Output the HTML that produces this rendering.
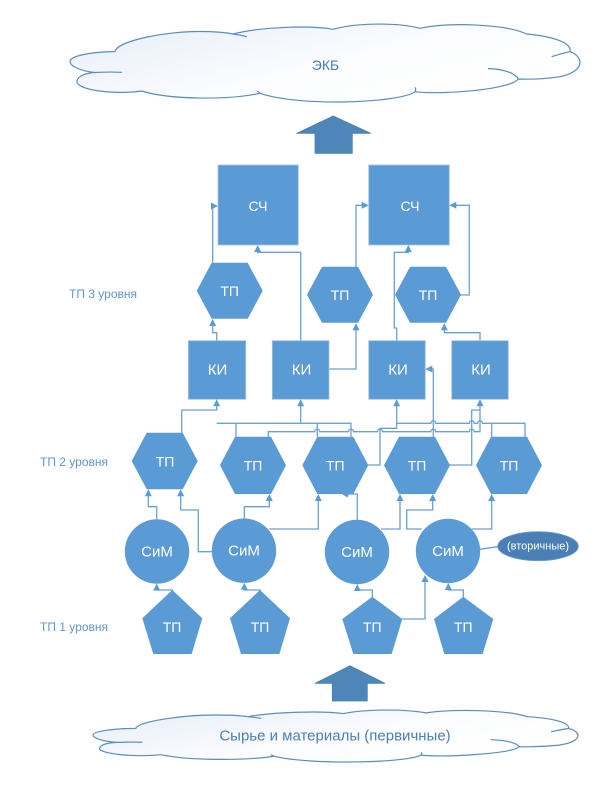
<!DOCTYPE html>
<html><head><meta charset="utf-8"><style>
html,body{margin:0;padding:0;background:#fff;}
svg{display:block;}
text{font-family:"Liberation Sans",sans-serif;}
</style></head><body>
<svg width="605" height="790" viewBox="0 0 605 790" xmlns="http://www.w3.org/2000/svg">
<defs>
<linearGradient id="cg" x1="0" y1="0" x2="1" y2="0.6">
<stop offset="0" stop-color="#e6edf8"/><stop offset="0.6" stop-color="#fbfcfe"/><stop offset="1" stop-color="#ffffff"/>
</linearGradient>
<g id="cloud">
<path d="M141.7 91 C115 95,75 90,77 81 C78 75,88 73,95 72.5 C80 71,70 66,70 61.5 C70 56,90 52,115 51.5 C118 40,170 31,200 31.5 C215 31.5,228 33,233 34 C260 27,310 25,333 29.3 C360 22,400 23,420 28.3 C450 22,505 24,526.7 34 C550 36,572 42,570 51.7 C585 57,584 72,560 76.7 C545 79,530 79.5,518.3 79 C510 90,440 95,415 91.7 C400 103,300 107,260 93.3 C230 100,170 100,141.7 91 Z" fill="url(#cg)" stroke="#5a8cc2" stroke-width="1.2" vector-effect="non-scaling-stroke"/>
<path d="M95 72.5 C105 72,115 72,122 72.3 M233 34 C238 35,243 35.5,247 36.7 M570 51.7 C563 53,557 55,551.7 56.7 M518.3 79 C515 72,500 69,488 68.5 M415 91.7 C416 90,416 89,415 87.3 M260 93.3 C259 92,258 91.5,257 91" fill="none" stroke="#5a8cc2" stroke-width="1.2" vector-effect="non-scaling-stroke"/>
</g>
</defs>

<!-- top cloud -->
<use href="#cloud"/>
<text x="325.5" y="65" font-size="14" fill="#4a7ebb" text-anchor="middle" dominant-baseline="central">ЭКБ</text>

<!-- bottom cloud -->
<g transform="translate(93,710) scale(0.951,0.667) translate(-70,-24)"><use href="#cloud"/></g>
<text x="335" y="736" font-size="15" fill="#4a7ebb" text-anchor="middle" dominant-baseline="central">Сырье и материалы (первичные)</text>

<!-- block arrows -->
<polygon points="333.3,116 370.7,133.3 352.3,133.3 352.3,153.3 315,153.3 315,133.3 296.7,133.3" fill="#4f86b9" stroke="#4a7fb0" stroke-width="0.8"/>
<polygon points="350,665.7 385,683.3 367.3,683.3 367.3,701 332.3,701 332.3,683.3 315,683.3" fill="#4f86b9" stroke="#4a7fb0" stroke-width="0.8"/>

<!-- level labels -->
<g font-size="12" fill="#5f95cf">
<text x="69" y="294" dominant-baseline="central">ТП 3 уровня</text>
<text x="40" y="462" dominant-baseline="central">ТП 2 уровня</text>
<text x="40" y="627" dominant-baseline="central">ТП 1 уровня</text>
</g>

<!-- connectors -->
<g fill="none" stroke="#6c9fd4" stroke-width="1.3">
<path d="M216.7 341 V332.7 H212.7 V325"/>
<path d="M212.7 262.7 V206 H212"/>
<path d="M300.7 341 V252.3 H257.7 V251"/>
<path d="M329 369 H356 V329"/>
<path d="M356 266.7 V205.3 H362"/>
<path d="M396.7 341 V328 H394.3 V252.3 H408.3 V251"/>
<path d="M460 295 H469.3 V205.3 H455"/>
<path d="M480 341 V332.7 H444.3 V329"/>
<path d="M433.3 436.7 V369 H431"/>

<path d="M181.7 432.7 V410 H216.7 V405"/>
<path d="M236 436.7 V423.3 M216.7 423.3 H351 V436.7 M300.7 423.3 V405 M317.3 423.3 V436.7"/>
<path d="M268.3 436.7 V431.7 H314.8 a2.5 2.5 0 0 1 5 0 H348.5 a2.5 2.5 0 0 1 5 0 H377.5 a2.5 2.5 0 0 1 5 0 H430.8 a2.5 2.5 0 0 1 5 0 H469.2 a2.5 2.5 0 0 1 5 0 H480 V405"/>
<path d="M367.3 465 H380 V428.3 H396.7 V405"/>
<path d="M396.7 423.3 H430.8 a2.5 2.5 0 0 1 5 0 H469.2 a2.5 2.5 0 0 1 5 0 H477.5 a2.5 2.5 0 0 1 5 0 H525 V436.7 M491.7 423.3 V436.7"/>
<path d="M449.3 465 H471.7 V410 H480"/>

<path d="M156.7 519.3 V506.7 H148.3 V495"/>
<path d="M211.7 551.7 H198.3 V510 H180.7 V495"/>
<path d="M244.3 518.7 V506.7 H269.3 V500"/>
<path d="M269.3 529 H318.3 V500"/>
<path d="M357.3 520 V494 H348"/>
<path d="M381 529 H400 V500"/>
<path d="M421.7 529 H406.7 V510 H432.7 V500"/>
<path d="M471.7 529 H491.7 V500"/>
<path d="M480 549.3 L497.7 546.7"/>

<path d="M172.3 592 V590 H156.7 V589"/>
<path d="M260 592 V590 H244.3 V588"/>
<path d="M372.3 597 V590 H357.3 V589"/>
<path d="M402.3 619 H425 V581"/>
<path d="M463.3 597 V590 H448.3 V588"/>
</g>

<!-- shapes -->
<g fill="#5b9bd5" stroke="#a9c1da" stroke-width="0.8">
<rect x="218" y="165" width="80.3" height="80"/>
<rect x="368.7" y="165" width="80.6" height="80"/>
<rect x="188.3" y="340.7" width="57.4" height="58.6"/>
<rect x="272.3" y="340.7" width="56.7" height="58.6"/>
<rect x="368.7" y="340.7" width="56.6" height="58.6"/>
<rect x="451.7" y="340.7" width="56.6" height="58.6"/>
</g>
<g fill="#5b9bd5">
<!-- level 3 hexes -->
<polygon points="211.7,262.7 247.7,262.7 262.7,290.7 247.7,318.7 211.7,318.7 196.7,290.7"/>
<polygon points="322,266.7 358,266.7 373,294.7 358,322.7 322,322.7 307,294.7"/>
<polygon points="410,266.7 446,266.7 461,294.7 446,322.7 410,322.7 395,294.7"/>
<!-- level 2 hexes -->
<polygon points="146.7,432.7 182.7,432.7 197.7,461 182.7,489.3 146.7,489.3 131.7,461"/>
<polygon points="235,436.7 271,436.7 286,465.3 271,494 235,494 220,465.3"/>
<polygon points="317.3,436.7 353.3,436.7 368.3,465.3 353.3,494 317.3,494 302.3,465.3"/>
<polygon points="399,436.7 435,436.7 450,465.3 435,494 399,494 384,465.3"/>
<polygon points="491,436.7 527,436.7 542,465.3 527,494 491,494 476,465.3"/>
<polygon points="341,493.5 349,493.5 347.5,497.5"/>
<!-- circles -->
<circle cx="157" cy="551.5" r="32.2"/>
<circle cx="244" cy="550.7" r="32.2"/>
<circle cx="357" cy="552" r="32.2"/>
<circle cx="448" cy="551" r="32.2"/>
<!-- pentagons -->
<polygon points="172.3,590 202.3,618.3 191.7,654 153.3,654 142.3,618.3"/>
<polygon points="260,590 290,618.3 279.4,654 241,654 230,618.3"/>
<polygon points="372.3,596.7 402.3,619 391.7,654 353.3,654 342.3,619"/>
<polygon points="463.3,596.7 493.3,619 482.7,654 444.3,654 434,619"/>
<!-- arrowheads up -->
<polygon points="212.7,319 209.2,326 216.2,326"/>
<polygon points="257.7,245 254.2,252 261.2,252"/>
<polygon points="356,323.3 352.5,330.3 359.5,330.3"/>
<polygon points="408.3,245 404.8,252 411.8,252"/>
<polygon points="444.3,323.3 440.8,330.3 447.8,330.3"/>
<polygon points="216.7,399.3 213.2,406.3 220.2,406.3"/>
<polygon points="300.7,399.3 297.2,406.3 304.2,406.3"/>
<polygon points="396.7,399.3 393.2,406.3 400.2,406.3"/>
<polygon points="480,399.3 476.5,406.3 483.5,406.3"/>
<polygon points="148.3,489.3 144.8,496.3 151.8,496.3"/>
<polygon points="180.7,489.3 177.2,496.3 184.2,496.3"/>
<polygon points="269.3,494 265.8,501 272.8,501"/>
<polygon points="318.3,494 314.8,501 321.8,501"/>
<polygon points="400,494 396.5,501 403.5,501"/>
<polygon points="432.7,494 429.2,501 436.2,501"/>
<polygon points="491.7,494 488.2,501 495.2,501"/>
<polygon points="156.7,583.5 153.2,590.5 160.2,590.5"/>
<polygon points="244.3,582.7 240.8,589.7 247.8,589.7"/>
<polygon points="357.3,584 353.8,591 360.8,591"/>
<polygon points="425,575 421.5,582 428.5,582"/>
<polygon points="448.3,583 444.8,590 451.8,590"/>
<!-- arrowheads right/left -->
<polygon points="218,206 211,202.5 211,209.5"/>
<polygon points="368.7,205.3 361.7,201.8 361.7,208.8"/>
<polygon points="449.3,205.3 456.3,201.8 456.3,208.8"/>
<polygon points="425.3,369 432.3,365.5 432.3,372.5"/>
</g>

<!-- ellipse -->
<ellipse cx="538" cy="546.2" rx="40.3" ry="14.5" fill="#4a7fb5" stroke="#6a9fd0" stroke-width="0.8"/>
<text x="538" y="546.5" font-size="11" fill="#ffffff" text-anchor="middle" dominant-baseline="central">(вторичные)</text>

<!-- labels -->
<g fill="#ffffff" text-anchor="middle" dominant-baseline="central">
<text x="258" y="206" font-size="14">СЧ</text>
<text x="410" y="206" font-size="14">СЧ</text>
<text x="229.7" y="291" font-size="14">ТП</text>
<text x="340" y="295" font-size="14">ТП</text>
<text x="428" y="295" font-size="14">ТП</text>
<text x="217.5" y="370" font-size="15">КИ</text>
<text x="301.5" y="370" font-size="15">КИ</text>
<text x="398" y="370" font-size="15">КИ</text>
<text x="481" y="370" font-size="15">КИ</text>
<text x="165" y="461.5" font-size="14">ТП</text>
<text x="253" y="465.5" font-size="14">ТП</text>
<text x="335.3" y="465.5" font-size="14">ТП</text>
<text x="417" y="465.5" font-size="14">ТП</text>
<text x="509" y="465.5" font-size="14">ТП</text>
<text x="157" y="552" font-size="15">СиМ</text>
<text x="244" y="551" font-size="15">СиМ</text>
<text x="357" y="552.5" font-size="15">СиМ</text>
<text x="448" y="551.5" font-size="15">СиМ</text>
<text x="172" y="627" font-size="14">ТП</text>
<text x="260" y="627" font-size="14">ТП</text>
<text x="372.3" y="627" font-size="14">ТП</text>
<text x="463.3" y="627" font-size="14">ТП</text>
</g>
</svg>
</body></html>
